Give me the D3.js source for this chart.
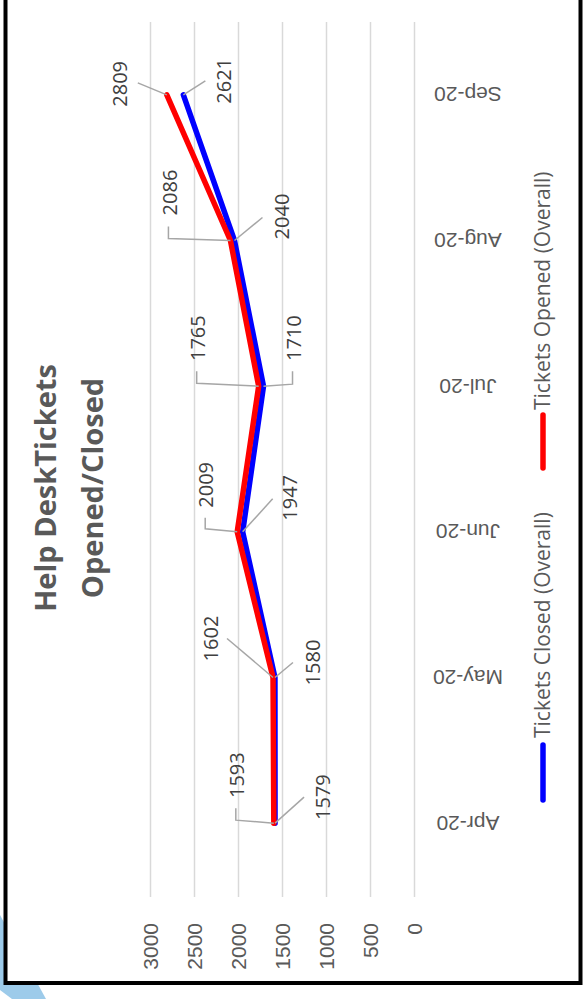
<!DOCTYPE html>
<html>
<head>
<meta charset="utf-8">
<script src="https://cdn.jsdelivr.net/npm/d3@7"></script>
<style>
  html, body { margin: 0; padding: 0; background: #fff; }
  svg { display: block; font-family: "Open Sans", sans-serif; }
</style>
</head>
<body>
<svg id="chart" width="585" height="999"></svg>
<script>
// Monthly help desk ticket counts
const months = ["Apr-20", "May-20", "Jun-20", "Jul-20", "Aug-20", "Sep-20"];
const ticketsOpened = [1593, 1602, 2009, 1765, 2086, 2809];
const ticketsClosed = [1579, 1580, 1947, 1710, 2040, 2621];
const valueTicks = [0, 500, 1000, 1500, 2000, 2500, 3000];
const seriesNames = ["Tickets Closed (Overall)", "Tickets Opened (Overall)"];
const titleLines = ["Help DeskTickets", "Opened/Closed"];

// Layout: the chart is laid out sideways, values run right-to-left, months bottom-to-top
const plot = { left: 150, right: 414, top: 22, bottom: 896 };

// Label placement relative to each point (label centre, leader polyline)
const openedLabelLayout = [
  { label: [-37, -48], leader: [[0, 0], [-38, -3], [-38, -15]] },
  { label: [-62, -39], leader: [[0, 0], [-46, -39]] },
  { label: [-31, -47], leader: [[0, 0], [-32, -3], [-32, -14]] },
  { label: [-61, -48], leader: [[0, 0], [-62, -3], [-62, -15]] },
  { label: [-60, -48], leader: [[0, 0], [-62, -2], [-62, -14]] },
  { label: [-47, -11], leader: [[0, 0], [-29, -12]] }
];
const closedLabelLayout = [
  { label: [48, -26], leader: [[0, 0], [29, -26]] },
  { label: [38, -15], leader: [[0, 0], [18, -15]] },
  { label: [47, -34], leader: [[0, 0], [30, -33]] },
  { label: [30, -48], leader: [[0, 0], [29, -2], [29, -15]] },
  { label: [48, -24], leader: [[0, 0], [28, -23]] },
  { label: [41, -14], leader: [[0, 0], [22, -14]] }
];

const svg = d3.select("#chart");

// light blue accent behind the frame
svg.append("path")
  .attr("d", "M0,915 L46,999 L12,999 L0,990 Z")
  .attr("fill", "#9dcbea");

// frame
svg.append("rect")
  .attr("x", 5.5).attr("y", -20)
  .attr("width", 575).attr("height", 1003)
  .attr("fill", "#fff")
  .attr("stroke", "#000")
  .attr("stroke-width", 4);

const x = d3.scaleLinear().domain([0, 3000]).range([plot.right, plot.left]);
const y = d3.scaleBand().domain(months).range([plot.bottom, plot.top]);
const cy = m => y(m) + y.bandwidth() / 2;

// value axis with gridlines
const valueAxis = svg.append("g")
  .attr("transform", `translate(0,${plot.bottom + 1})`)
  .call(d3.axisBottom(x).tickValues(valueTicks).tickSize(-(plot.bottom + 1 - plot.top)).tickFormat(d3.format("d")));
valueAxis.select(".domain").remove();
valueAxis.selectAll(".tick line")
  .attr("stroke", "#d9d9d9")
  .attr("stroke-width", 1.5);
valueAxis.selectAll(".tick text")
  .attr("transform", "rotate(-90)")
  .attr("x", -26).attr("y", 0).attr("dy", "0.35em")
  .attr("text-anchor", "end")
  .attr("fill", "#595959")
  .style("font-size", "21px");

// month axis, labels turned upside down
const monthAxis = svg.append("g")
  .attr("transform", `translate(${plot.right},0)`)
  .call(d3.axisRight(y).tickSize(0));
monthAxis.select(".domain").remove();
monthAxis.selectAll(".tick text")
  .attr("transform", "rotate(180)")
  .attr("x", -54).attr("y", 0).attr("dy", "0.35em")
  .attr("text-anchor", "middle")
  .attr("fill", "#595959")
  .style("font-size", "21px");

// series lines
const series = [
  { name: seriesNames[0], values: ticketsClosed, color: "#0000ff", layout: closedLabelLayout },
  { name: seriesNames[1], values: ticketsOpened, color: "#ff0000", layout: openedLabelLayout }
];

const line = d3.line()
  .x(d => x(d.v))
  .y(d => cy(d.m));

series.forEach(s => {
  const pts = months.map((m, i) => ({ m, v: s.values[i] }));
  svg.append("path")
    .datum(pts)
    .attr("d", line)
    .attr("fill", "none")
    .attr("stroke", s.color)
    .attr("stroke-width", 5.5)
    .attr("stroke-linejoin", "round")
    .attr("stroke-linecap", "round");
});

// data labels with leader lines
series.forEach(s => {
  const g = svg.append("g");
  months.forEach((m, i) => {
    const px = x(s.values[i]), py = cy(m);
    const lay = s.layout[i];
    g.append("polyline")
      .attr("points", lay.leader.map(p => `${px + p[0]},${py + p[1]}`).join(" "))
      .attr("fill", "none")
      .attr("stroke", "#a6a6a6")
      .attr("stroke-width", 1.5);
    g.append("text")
      .attr("transform", `translate(${px + lay.label[0]},${py + lay.label[1]}) rotate(-90)`)
      .attr("text-anchor", "middle")
      .attr("dy", "0.35em")
      .attr("fill", "#404040")
      .style("font-size", "20px")
      .text(s.values[i]);
  });
});

// title
const title = svg.append("g").attr("transform", "translate(0,488)");
titleLines.forEach((t, i) => {
  title.append("text")
    .attr("transform", `translate(${56 + i * 47},0) rotate(-90)`)
    .attr("text-anchor", "middle")
    .attr("fill", "#595959")
    .style("font-size", "29px")
    .style("font-weight", "bold")
    .text(t);
});

// legend
const legendItems = [
  { name: seriesNames[0], color: "#0000ff", top: 745, bottom: 800, textStart: 738 },
  { name: seriesNames[1], color: "#ff0000", top: 415, bottom: 468, textStart: 410 }
];
const legend = svg.append("g");
legendItems.forEach(d => {
  legend.append("line")
    .attr("x1", 543).attr("x2", 543)
    .attr("y1", d.top).attr("y2", d.bottom)
    .attr("stroke", d.color)
    .attr("stroke-width", 5.5)
    .attr("stroke-linecap", "round");
  legend.append("text")
    .attr("transform", `translate(543,${d.textStart}) rotate(-90)`)
    .attr("dy", "0.35em")
    .attr("text-anchor", "start")
    .attr("fill", "#595959")
    .style("font-size", "21px")
    .text(d.name);
});
</script>
</body>
</html>
